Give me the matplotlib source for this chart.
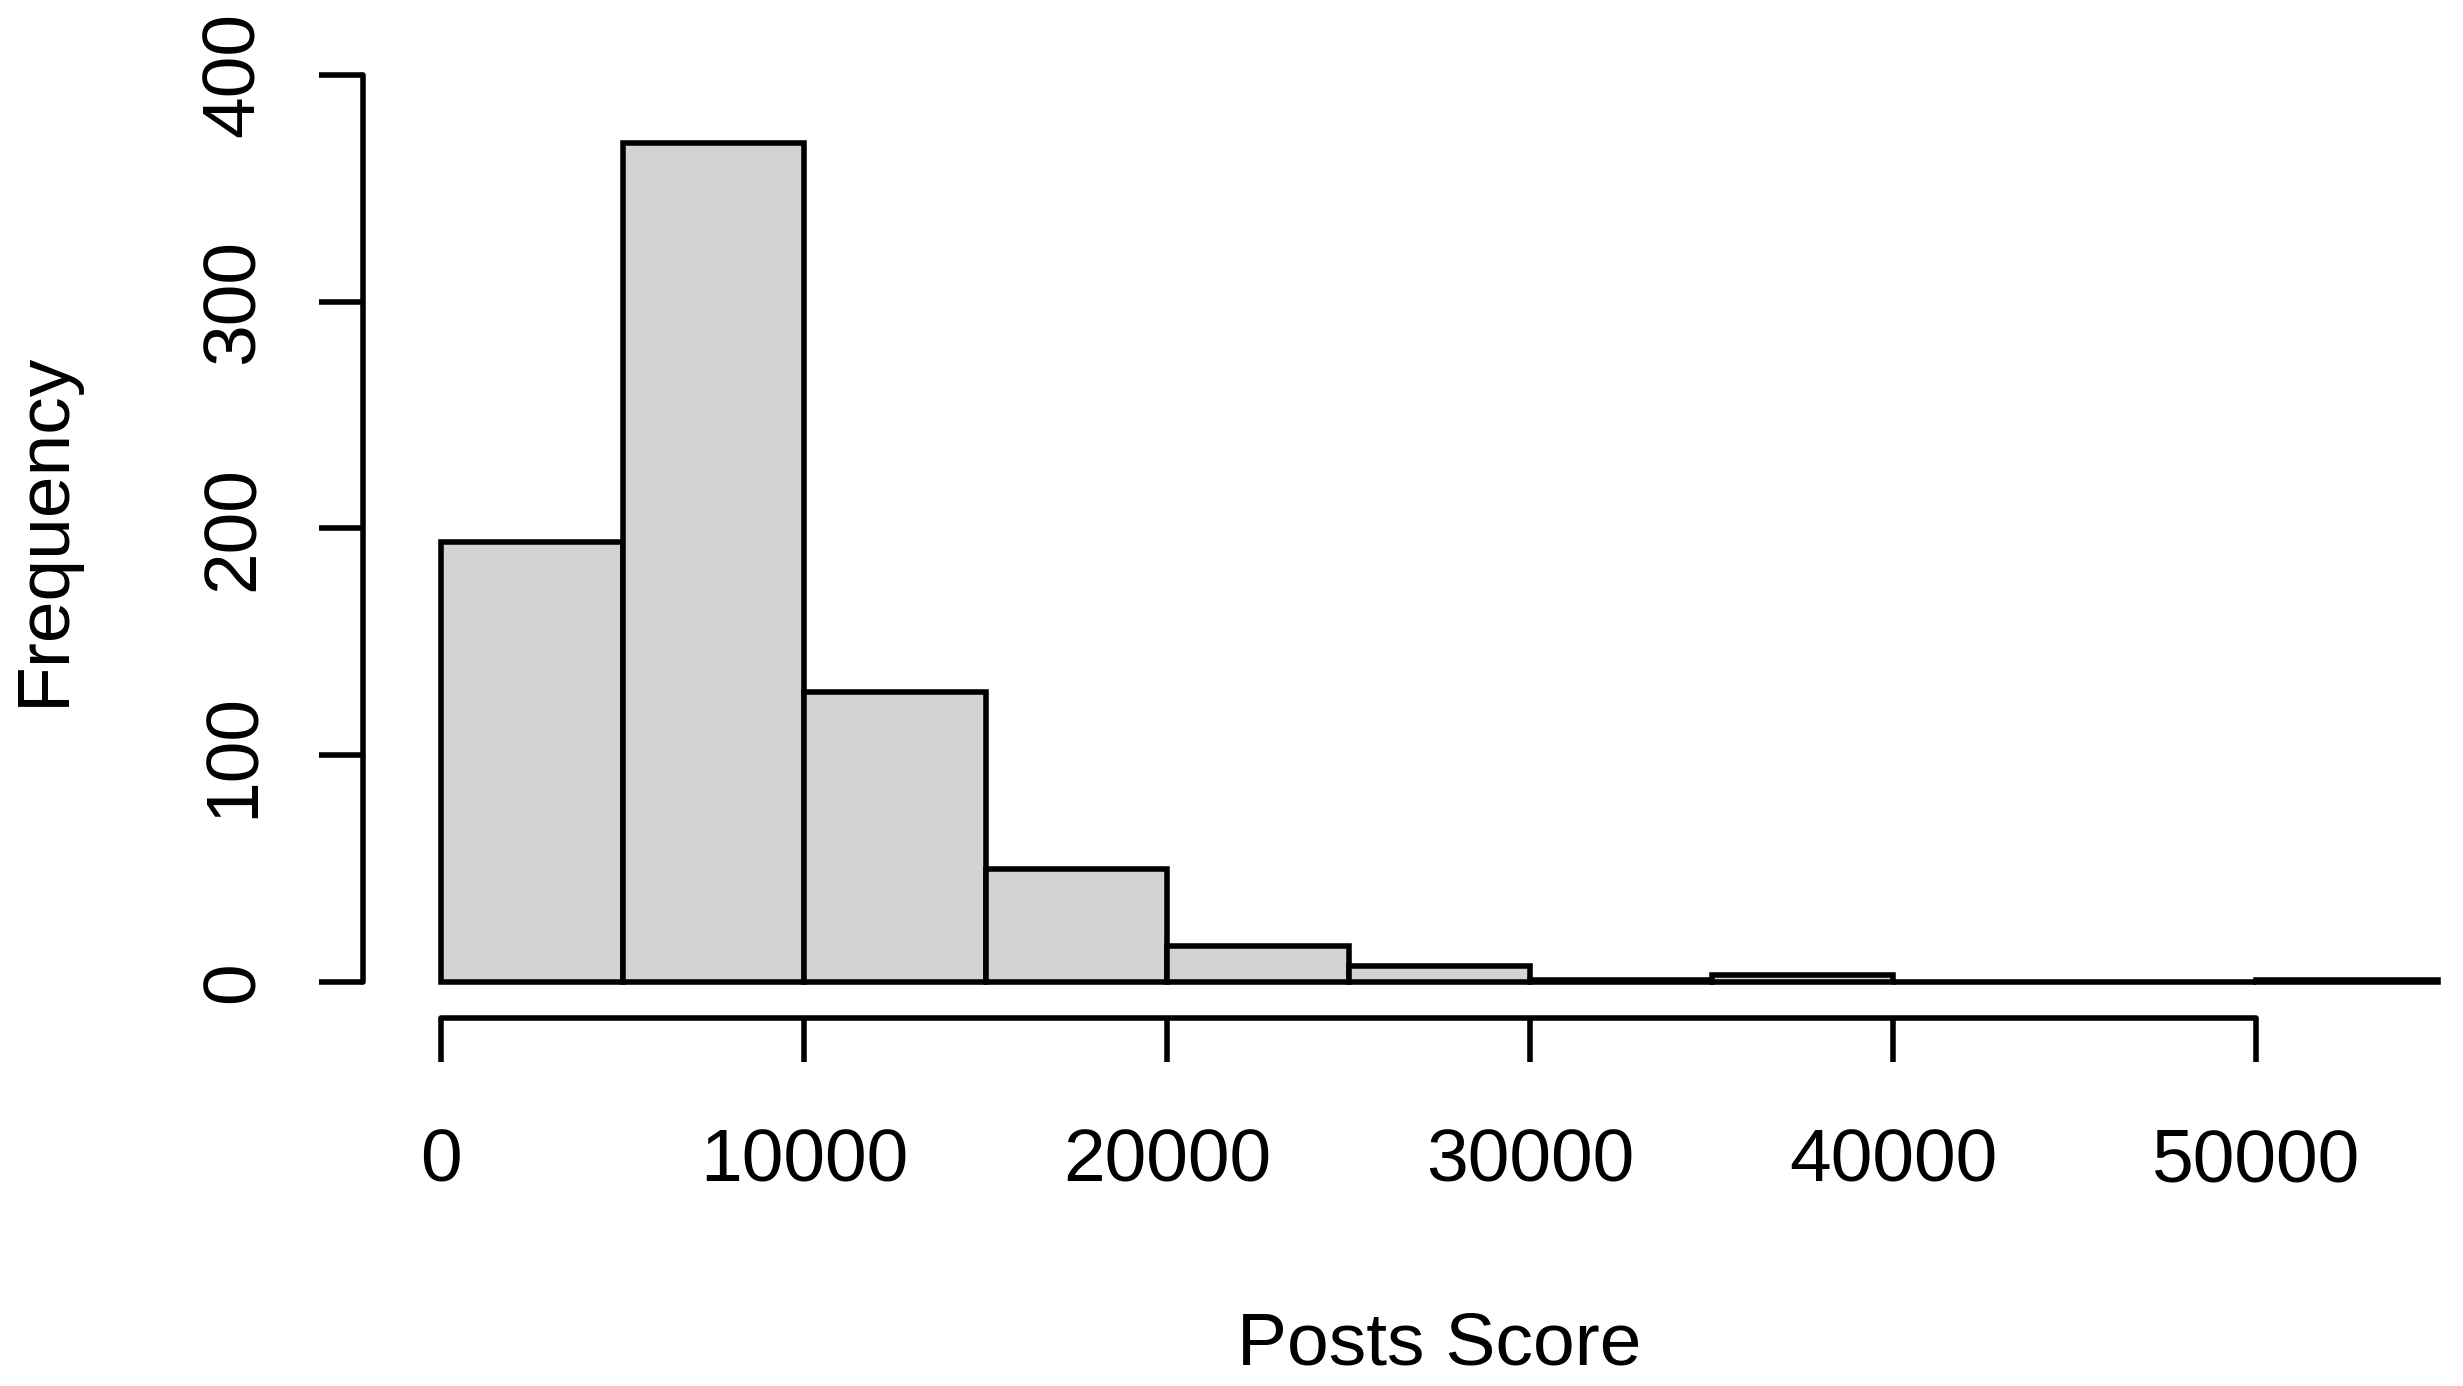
import matplotlib
matplotlib.use("Agg")
import matplotlib.pyplot as plt
import matplotlib.transforms as mtransforms

# histogram bins (width 5000) and their counts
bin_edges = [0, 5000, 10000, 15000, 20000, 25000, 30000, 35000, 40000, 45000, 50000, 55000]
counts = [194, 370, 128, 50, 16, 7, 1, 3, 0, 0, 1]

x_ticks = [0, 10000, 20000, 30000, 40000, 50000]
y_ticks = [0, 100, 200, 300, 400]

plt.rcParams['font.family'] = ['Liberation Sans', 'DejaVu Sans']

lw = 4.0
fs = 54
fig = plt.figure(figsize=(24.63, 13.86), dpi=100)
ax = fig.add_axes([0.1474, 0.2655, 0.8526, 0.6804])

widths = [bin_edges[i + 1] - bin_edges[i] for i in range(len(counts))]
ax.bar(bin_edges[:-1], counts, width=widths, align='edge',
       color='#d3d3d3', edgecolor='black', linewidth=lw, clip_on=False)

ax.set_xlim(-2149, 55702)
ax.set_ylim(-15.9, 400)

for side in ['top', 'right']:
    ax.spines[side].set_visible(False)
ax.spines['left'].set_bounds(0, 400)
ax.spines['bottom'].set_bounds(0, 50000)
for side in ['left', 'bottom']:
    ax.spines[side].set_linewidth(lw)
    ax.spines[side].set_capstyle('round')

ax.set_xticks(x_ticks)
ax.set_yticks(y_ticks)
ax.set_xticklabels([str(v) for v in x_ticks])
ax.set_yticklabels([str(v) for v in y_ticks], rotation=90, va='center')
ax.tick_params(axis='both', length=31.7, width=lw, labelsize=fs, colors='black')
ax.tick_params(axis='x', pad=47)
ax.tick_params(axis='y', pad=36)

# axis titles, placed like R does (centred on the plot region)
tx = mtransforms.blended_transform_factory(ax.transData, fig.transFigure)
ax.text(27500, 0.0155, 'Posts Score', transform=tx, ha='center', va='baseline',
        fontsize=fs, clip_on=False)
ty = mtransforms.blended_transform_factory(fig.transFigure, ax.transData)
ax.text(0.0181, 200, 'Frequency', transform=ty, rotation=90, ha='center', va='center',
        fontsize=fs, clip_on=False)

fig.savefig('out.png', dpi=100)
